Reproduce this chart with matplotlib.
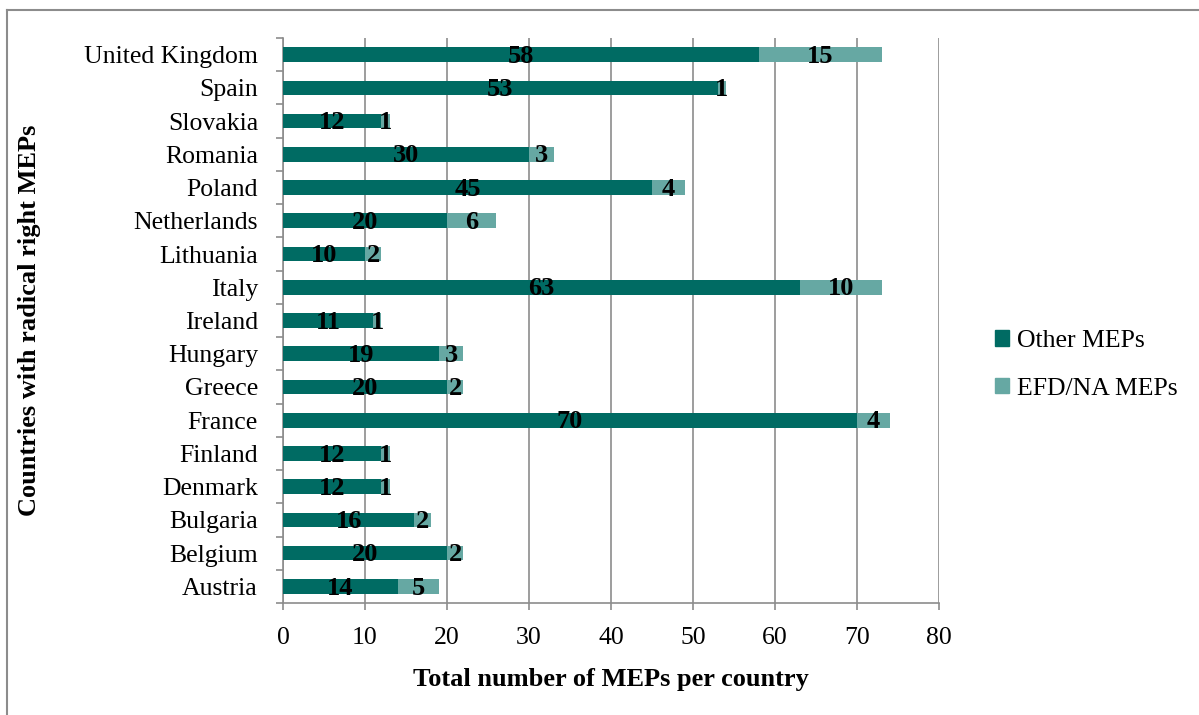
import matplotlib
matplotlib.use("Agg")
import matplotlib.pyplot as plt
import numpy as np
from matplotlib.lines import Line2D
from matplotlib.patches import Patch

plt.rcParams['font.family'] = ['Liberation Serif', 'DejaVu Serif']

countries = ["Austria", "Belgium", "Bulgaria", "Denmark", "Finland", "France",
             "Greece", "Hungary", "Ireland", "Italy", "Lithuania", "Netherlands",
             "Poland", "Romania", "Slovakia", "Spain", "United Kingdom"]
other_meps = [14, 20, 16, 12, 12, 70, 20, 19, 11, 63, 10, 20, 45, 30, 12, 53, 58]
efd_meps = [5, 2, 2, 1, 1, 4, 2, 3, 1, 10, 2, 6, 4, 3, 1, 1, 15]
x_ticks = [0, 10, 20, 30, 40, 50, 60, 70, 80]

dark = "#006b63"
light = "#66a8a3"
grid_col = "#8c8c8c"

fig = plt.figure(figsize=(11.99, 7.15), dpi=100)
ax = fig.add_axes([283 / 1199, 1 - 603 / 715, (939 - 283) / 1199, (603 - 38) / 715])

y = np.arange(len(countries))
h = 0.44
ax.barh(y, other_meps, height=h, color=dark, zorder=3)
ax.barh(y, efd_meps, left=other_meps, height=h, color=light, zorder=3)

for yi, a, b in zip(y, other_meps, efd_meps):
    ax.text(a / 2, yi - 0.05, str(a), ha="center", va="center", fontsize=19,
            fontweight="bold", zorder=4)
    ax.text(a + b / 2, yi - 0.05, str(b), ha="center", va="center", fontsize=19,
            fontweight="bold", zorder=4)

ax.set_xlim(0, 80)
ax.set_ylim(-0.5, len(countries) - 0.5)
ax.set_xticks(x_ticks)
ax.set_xticklabels([str(t) for t in x_ticks], fontsize=18.5)
ax.set_yticks(y)
ax.set_yticklabels(countries, fontsize=18.5)
ax.set_yticks(np.arange(-0.5, len(countries), 1), minor=True)
ax.tick_params(axis="y", which="major", length=0, pad=18)
ax.tick_params(axis="y", which="minor", length=5, color=grid_col, width=1.2)
ax.tick_params(axis="x", length=5, color=grid_col, width=1.2, pad=12)

ax.grid(axis="x", color=grid_col, linewidth=1.2, zorder=0)
for s in ["top", "right"]:
    ax.spines[s].set_visible(False)
for s in ["left", "bottom"]:
    ax.spines[s].set_color(grid_col)
    ax.spines[s].set_linewidth(1.2)

ax.set_xlabel("Total number of MEPs per country", fontsize=19, fontweight="bold",
              labelpad=14)
fig.text(30 / 1199, 1 - 320 / 715, "Countries with radical right MEPs", rotation=90,
         fontsize=19, fontweight="bold", ha="center", va="center")

handles = [Patch(color=dark, label="Other MEPs"), Patch(color=light, label="EFD/NA MEPs")]
fig.legend(handles=handles, loc="center left", bbox_to_anchor=(972 / 1199, 1 - 365 / 715),
           frameon=False, fontsize=18.5, handlelength=0.55, handleheight=0.55,
           handletextpad=0.3, labelspacing=1.0)

# outer frame
fig.add_artist(Line2D([7 / 1199, 1.0], [1 - 9.5 / 715] * 2, color="#8c8c8c", lw=1.5,
                      transform=fig.transFigure))
fig.add_artist(Line2D([7 / 1199] * 2, [0.0, 1 - 9.5 / 715], color="#8c8c8c", lw=1.5,
                      transform=fig.transFigure))

fig.savefig("out.png", dpi=100)
